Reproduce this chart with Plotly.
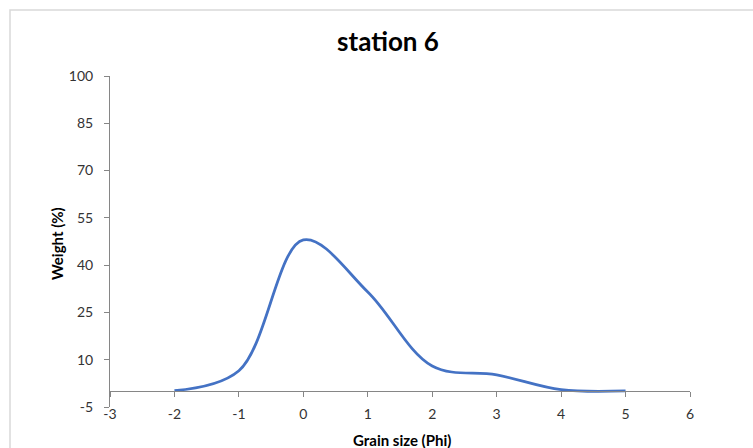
import plotly.graph_objects as go

# Grain-size distribution, station 6
phi = [-2, -1, 0, 1, 2, 3, 4, 5]
weight = [0.2, 6.5, 48, 31.5, 8, 5.2, 0.5, 0.1]

x_ticks = list(range(-3, 7))
y_ticks = [-5, 10, 25, 40, 55, 70, 85, 100]

W, H = 753, 448
ML, MR, MT, MB = 110, 63, 76, 41

axis_grey = "#868686"
label_color = "#333333"
font_family = "Lato, Calibri, 'Open Sans', sans-serif"

fig = go.Figure()
fig.add_trace(go.Scatter(
    x=phi, y=weight, mode="lines",
    line=dict(color="#4472C4", width=2.75, shape="spline", smoothing=1.0),
    showlegend=False, hoverinfo="x+y",
))

y_min, y_max = y_ticks[0], y_ticks[-1]

fig.update_layout(
    width=W, height=H,
    margin=dict(l=ML, r=MR, t=MT, b=MB),
    paper_bgcolor="white", plot_bgcolor="white",
    font=dict(family=font_family, color=label_color, size=14),
    title=dict(text="<b>station 6</b>", x=388 / W, xref="container", xanchor="center",
               y=1 - 42 / H, yref="container", yanchor="middle",
               font=dict(size=26, color="black", family=font_family)),
    xaxis=dict(range=[x_ticks[0], x_ticks[-1]], tickvals=x_ticks,
               ticktext=[str(v) for v in x_ticks],
               showgrid=False, zeroline=False,
               showline=True, linecolor=axis_grey, linewidth=1,
               ticks="outside", ticklen=5, tickcolor=axis_grey,
               anchor="free", position=(0 - y_min) / (y_max - y_min),
               ticklabelstandoff=5),
    yaxis=dict(range=[y_min, y_max], tickvals=y_ticks,
               ticktext=[str(v) for v in y_ticks],
               showgrid=False, zeroline=False,
               showline=True, linecolor=axis_grey, linewidth=1,
               ticks="outside", ticklen=5, tickcolor=axis_grey,
               ticklabelstandoff=8),
)

pw = W - ML - MR
ph = H - MT - MB

# axis titles
fig.add_annotation(text="<b>Weight (%)</b>", textangle=-90, showarrow=False,
                   xref="paper", yref="paper",
                   x=(57 - ML) / pw, y=(H - MB - 244) / ph,
                   xanchor="center", yanchor="middle",
                   font=dict(size=15, color="black", family=font_family))
fig.add_annotation(text="<b>Grain size (Phi)</b>", showarrow=False,
                   xref="paper", yref="paper",
                   x=(402 - ML) / pw, y=(H - MB - 440) / ph,
                   xanchor="center", yanchor="middle",
                   font=dict(size=15, color="black", family=font_family))

# chart-area border
fig.add_shape(type="rect", xref="paper", yref="paper",
              x0=(10 - ML) / pw, x1=(W + 20 - ML) / pw,
              y0=(H - MB - (H + 20)) / ph, y1=(H - MB - 10) / ph,
              line=dict(color="#d9d9d9", width=1.5), fillcolor="rgba(0,0,0,0)",
              layer="below")

fig.write_html("out.html")
